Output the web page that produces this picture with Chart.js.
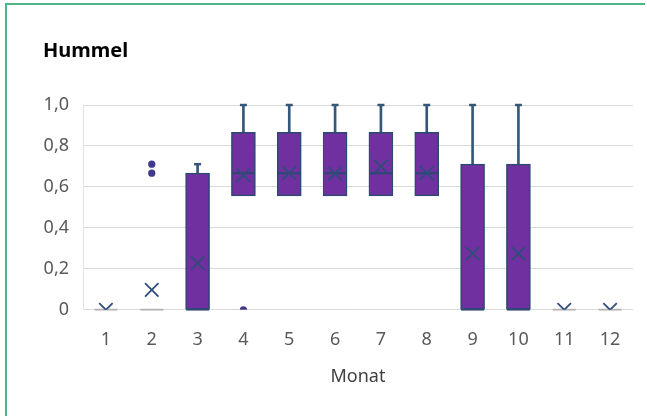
<!DOCTYPE html>
<html>
<head>
<meta charset="utf-8">
<script src="https://cdn.jsdelivr.net/npm/chart.js@4"></script>
<style>
html,body{margin:0;padding:0;background:#fff;overflow:hidden;}
canvas{display:block;}
</style>
</head>
<body>
<canvas id="c" width="647" height="416"></canvas>
<script>
// ---- data ----
const months = ['1','2','3','4','5','6','7','8','9','10','11','12'];
const q1 =        [0, 0, 0,     0.556, 0.556, 0.556, 0.556, 0.556, 0,     0,     0, 0];
const q3 =        [0, 0, 0.667, 0.867, 0.867, 0.867, 0.867, 0.867, 0.711, 0.711, 0, 0];
const medians =   [0, 0, 0,     0.667, 0.667, 0.667, 0.667, 0.667, 0,     0,     0, 0];
const whiskerMax =[0, 0, 0.711, 1,     1,     1,     1,     1,     1,     1,     0, 0];
const means =     [0, 0.097, 0.228, 0.657, 0.668, 0.665, 0.70, 0.667, 0.275, 0.275, 0, 0];
const outlierMonths = ['2', '2', '4'];
const outlierValues = [0.711, 0.667, 0];
const yTicks = [0, 0.2, 0.4, 0.6, 0.8, 1.0];
const chartTitle = 'Hummel';
const xTitle = 'Monat';

// ---- derived datasets ----
const boxData = months.map((m, i) => q3[i] > q1[i] ? [q1[i], q3[i]] : null);
const whiskerData = months.map((m, i) => whiskerMax[i] > q3[i] ? [q3[i], whiskerMax[i]] : null);
const capData = months.map((m, i) => whiskerMax[i] > q3[i] ? whiskerMax[i] : null);
const outlierData = outlierMonths.map((m, i) => ({x: m, y: outlierValues[i]}));

const FONT = '"Noto Sans", "Open Sans", sans-serif';
const BOX_FILL = '#7030A0';
const BOX_LINE = '#2A4A72';
const WHISKER = '#35587A';
const MEAN = '#2E4D7B';
const OUTLIER = '#43398C';

const framePlugin = {
  id: 'frame',
  beforeDraw(chart) {
    const ctx = chart.ctx;
    ctx.save();
    ctx.fillStyle = '#ffffff';
    ctx.fillRect(0, 0, chart.width, chart.height);
    ctx.strokeStyle = '#4DB887';
    ctx.lineWidth = 2;
    ctx.beginPath();
    ctx.moveTo(6, chart.height);
    ctx.lineTo(6, 4);
    ctx.lineTo(chart.width - 2, 4);
    ctx.stroke();
    ctx.restore();
  }
};

new Chart(document.getElementById('c'), {
  type: 'bar',
  plugins: [framePlugin],
  data: {
    labels: months,
    datasets: [
      {
        type: 'line', label: 'mean', data: means, showLine: false,
        pointStyle: 'crossRot', pointRadius: 9.5, pointBorderWidth: 1.8,
        pointBorderColor: MEAN, pointBackgroundColor: MEAN,
        clip: {left: 10, top: 10, right: 10, bottom: 0}, order: 0
      },
      {
        type: 'line', label: 'outliers', data: outlierData, showLine: false,
        pointStyle: 'circle', pointRadius: 3.6, pointBorderWidth: 0,
        pointBackgroundColor: OUTLIER, pointBorderColor: OUTLIER,
        clip: {left: 10, top: 10, right: 10, bottom: 0}, order: 0
      },
      {
        type: 'line', label: 'median', data: medians, showLine: false,
        pointStyle: 'line', pointRadius: 11.5, pointBorderWidth: 2,
        pointBorderColor: (ctx) => {
          const i = ctx.dataIndex;
          return (q3[i] > q1[i]) ? BOX_LINE : '#B4B4B4';
        },
        clip: {left: 10, top: 10, right: 10, bottom: 1}, order: 1
      },
      {
        type: 'line', label: 'cap', data: capData, showLine: false,
        pointStyle: 'line', pointRadius: 3.5, pointBorderWidth: 2.5,
        pointBorderColor: WHISKER, clip: false, order: 1
      },
      {
        label: 'box', data: boxData, grouped: false,
        backgroundColor: BOX_FILL, borderColor: BOX_LINE, borderWidth: 1.5,
        borderSkipped: false, barThickness: 24, order: 2
      },
      {
        label: 'whisker', data: whiskerData, grouped: false,
        backgroundColor: WHISKER, borderWidth: 0, barThickness: 2, order: 3
      }
    ]
  },
  options: {
    responsive: false,
    animation: false,
    devicePixelRatio: 1,
    events: [],
    layout: {padding: {left: 43, right: 14, top: 0, bottom: 28}},
    plugins: {
      legend: {display: false},
      tooltip: {enabled: false},
      title: {
        display: true, text: chartTitle, align: 'start', color: '#000000',
        font: {family: FONT, size: 20, weight: 'bold'},
        padding: {top: 39, bottom: 42}
      }
    },
    scales: {
      x: {
        type: 'category', offset: true,
        grid: {display: false, drawTicks: false},
        border: {display: false},
        ticks: {color: '#595959', font: {family: FONT, size: 18}, padding: 19, maxRotation: 0},
        title: {display: true, text: xTitle, color: '#404040',
                font: {family: FONT, size: 18}, padding: {top: -3, bottom: 0}}
      },
      y: {
        min: 0, max: 1,
        afterBuildTicks: (scale) => { scale.ticks = yTicks.map(v => ({value: v})); },
        afterFit: (scale) => { scale.width = 40; },
        grid: {color: '#D9D9D9', lineWidth: 1, drawTicks: false},
        border: {display: true, color: '#E3E3E3', width: 1},
        ticks: {
          color: '#595959', font: {family: FONT, size: 18}, padding: 14,
          callback: (v) => v === 0 ? '0' : v.toFixed(1).replace('.', ',')
        }
      }
    }
  }
});
</script>
</body>
</html>
